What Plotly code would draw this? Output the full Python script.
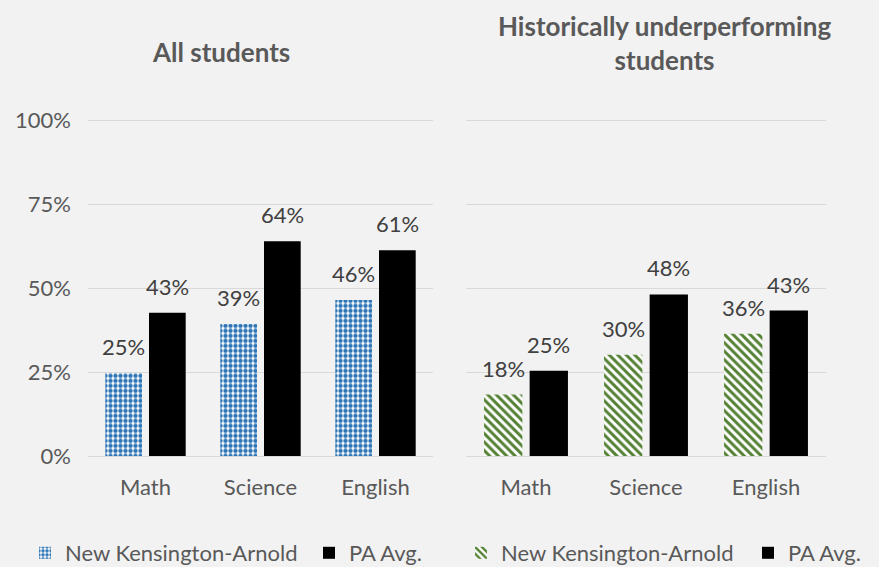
import plotly.graph_objects as go

categories = ["Math", "Science", "English"]
all_nk = [24.6, 39.3, 46.4]
all_pa = [42.6, 63.9, 61.2]
hist_nk = [18.3, 30.1, 36.4]
hist_pa = [25.4, 48.1, 43.3]
yticks = [0, 25, 50, 75, 100]
ytick_labels = ["0%", "25%", "50%", "75%", "100%"]
series_names = ["New Kensington-Arnold", "PA Avg."]
titles = ["<b>All students</b>", "<b>Historically underperforming<br>students</b>"]

FONT = "Lato"
W, H = 879, 567
BG = "#f2f2f2"
GRID = "#d9d9d9"
TXT = "#595959"
LBL = "#404040"
BLUE = "#2E75B6"
GREEN = "#548235"
BARGAP = 0.24
GROUPGAP = 0.16
FS = 22
YMAX = 100.5


def px_x(p):
    return p / W


def px_y(p):
    return 1 - p / H


fig = go.Figure()

panels = [
    ("x", "y", all_nk, all_pa, dict(shape=".", fgcolor=BLUE, bgcolor="white", size=5, solidity=0.6, fillmode="replace"), "legend", "legend2"),
    ("x2", "y2", hist_nk, hist_pa, dict(shape="\\", fgcolor=GREEN, bgcolor="white", size=6, solidity=0.5, fillmode="replace"), "legend3", "legend4"),
]

annotations = []
half_slot = (1 - BARGAP) / 4  # offset of each bar's center from category center
for xa, ya, nk, pa, pat, lg1, lg2 in panels:
    fig.add_trace(go.Bar(
        x=categories, y=nk, name=series_names[0], xaxis=xa, yaxis=ya,
        marker=dict(color="white", line=dict(width=0), pattern=pat),
        legend=lg1, hoverinfo="skip",
    ))
    fig.add_trace(go.Bar(
        x=categories, y=pa, name=series_names[1], xaxis=xa, yaxis=ya,
        marker=dict(color="black", line=dict(width=0)),
        legend=lg2, hoverinfo="skip",
    ))
    for vals, sign in ((nk, -1), (pa, 1)):
        for i, v in enumerate(vals):
            annotations.append(dict(
                x=i + sign * half_slot, y=v, xref=xa, yref=ya, text=f"{round(v)}%",
                showarrow=False, yanchor="bottom", xanchor="center", yshift=11,
                font=dict(family=FONT, size=FS, color=LBL),
            ))

annotations += [
    dict(text=titles[0], x=px_x(221), y=px_y(52), xref="paper", yref="paper", showarrow=False,
         font=dict(family=FONT, size=26, color=TXT), xanchor="center", yanchor="middle"),
    dict(text=titles[1], x=px_x(664), y=px_y(43), xref="paper", yref="paper", showarrow=False,
         font=dict(family=FONT, size=26, color=TXT), xanchor="center", yanchor="middle"),
]

top_px = 456 - 336 * YMAX / 100
ydom = [px_y(456), px_y(top_px)]
xcommon = dict(showgrid=False, showline=True, linecolor=GRID, linewidth=1, ticks="",
               tickfont=dict(family=FONT, size=FS, color=TXT), ticklabelstandoff=12, fixedrange=True)
ycommon = dict(range=[0, YMAX], tickvals=yticks, ticktext=ytick_labels, showgrid=True, gridcolor=GRID,
               gridwidth=1, zeroline=False, showline=False, ticks="", fixedrange=True,
               tickfont=dict(family=FONT, size=FS, color=TXT))

legend_common = dict(orientation="h", bgcolor="rgba(0,0,0,0)", yanchor="middle", xanchor="left",
                     y=px_y(553), font=dict(family=FONT, size=FS, color=TXT),
                     itemclick=False, itemdoubleclick=False)

fig.update_layout(
    width=W, height=H, paper_bgcolor=BG, plot_bgcolor=BG,
    margin=dict(l=0, r=0, t=0, b=0, autoexpand=False),
    bargap=BARGAP, bargroupgap=GROUPGAP, barmode="group",
    xaxis=dict(domain=[px_x(88), px_x(433)], anchor="y", **xcommon),
    yaxis=dict(domain=ydom, anchor="x", ticklabelstandoff=16, **ycommon),
    xaxis2=dict(domain=[px_x(466), px_x(826)], anchor="y2", **xcommon),
    yaxis2=dict(domain=ydom, anchor="x2", showticklabels=False, **ycommon),
    legend=dict(x=px_x(25), **legend_common),
    legend2=dict(x=px_x(309), **legend_common),
    legend3=dict(x=px_x(461), **legend_common),
    legend4=dict(x=px_x(748), **legend_common),
    annotations=annotations,
    showlegend=True,
)

fig.write_html("out.html", config={"displayModeBar": False},
               post_script="document.body.style.margin='0px';document.body.style.overflow='hidden';")
